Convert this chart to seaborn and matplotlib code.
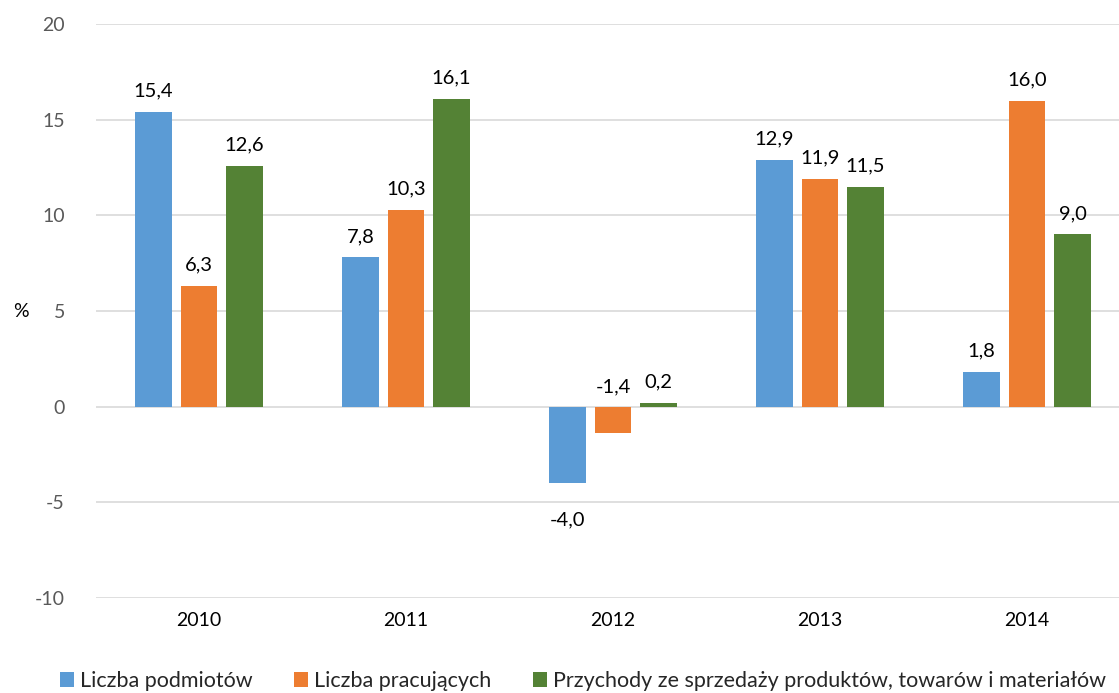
import matplotlib
matplotlib.use("Agg")
import matplotlib.pyplot as plt
import seaborn as sns
import pandas as pd

years = ["2010", "2011", "2012", "2013", "2014"]
series_names = ["Liczba podmiotów", "Liczba pracujących",
                "Przychody ze sprzedaży produktów, towarów i materiałów"]
liczba_podmiotow = [15.4, 7.8, -4.0, 12.9, 1.8]
liczba_pracujacych = [6.3, 10.3, -1.4, 11.9, 16.0]
przychody = [12.6, 16.1, 0.2, 11.5, 9.0]
colors = ["#5B9BD5", "#ED7D31", "#548235"]

rows = []
for name, vals in zip(series_names, [liczba_podmiotow, liczba_pracujacych, przychody]):
    for y, v in zip(years, vals):
        rows.append({"rok": y, "seria": name, "wartosc": v})
df = pd.DataFrame(rows)

sns.set_style("white")
plt.rcParams["font.family"] = ["Lato", "DejaVu Sans"]
plt.rcParams["axes.unicode_minus"] = False

fig = plt.figure(figsize=(11.19, 6.93), dpi=100)
ax = fig.add_axes([95.5 / 1119, 1 - 598 / 693, 1035 / 1119, 574 / 693])

sns.barplot(data=df, x="rok", y="wartosc", hue="seria", hue_order=series_names,
            order=years, palette=colors, saturation=1, width=0.66, gap=0.2, ax=ax,
            errorbar=None, legend=True, zorder=3, linewidth=0)

ax.set_ylim(-10, 20)
ax.set_yticks(range(-10, 21, 5))
ax.yaxis.grid(True, color="#D9D9D9", linewidth=1.2, zorder=0)
ax.set_axisbelow(True)
for s in ax.spines.values():
    s.set_visible(False)
ax.tick_params(axis="y", length=0, labelsize=14, labelcolor="#595959", pad=22)
ax.tick_params(axis="x", length=0, labelsize=14, labelcolor="#000000", pad=10)
ax.set_xlabel("")
ax.set_ylabel("%", rotation=0, fontsize=14, color="#000000", va="center")
ax.yaxis.set_label_coords(-0.072, 0.5)

for cont in ax.containers:
    for patch in cont:
        h = patch.get_height()
        if h is None:
            continue
        xc = patch.get_x() + patch.get_width() / 2
        label = f"{h:.1f}".replace(".", ",")
        if h >= 0:
            ax.annotate(label, (xc, h), xytext=(0, 9), textcoords="offset points",
                        ha="center", va="bottom", fontsize=14.5, color="#000000")
        elif h > -2:
            ax.annotate(label, (xc, 0), xytext=(0, 8), textcoords="offset points",
                        ha="center", va="bottom", fontsize=14.5, color="#000000")
        else:
            ax.annotate(label, (xc, h), xytext=(0, -20), textcoords="offset points",
                        ha="center", va="top", fontsize=14.5, color="#000000")

handles, labels = ax.get_legend_handles_labels()
ax.legend_.remove()
fig.legend(handles, labels, loc="center", bbox_to_anchor=(583 / 1119, 1 - 681 / 693),
           ncol=3, frameon=False, fontsize=15.5, handlelength=0.65, handleheight=0.65,
           handletextpad=0.3, columnspacing=1.9, borderaxespad=0)

fig.savefig("out.png", dpi=100)
